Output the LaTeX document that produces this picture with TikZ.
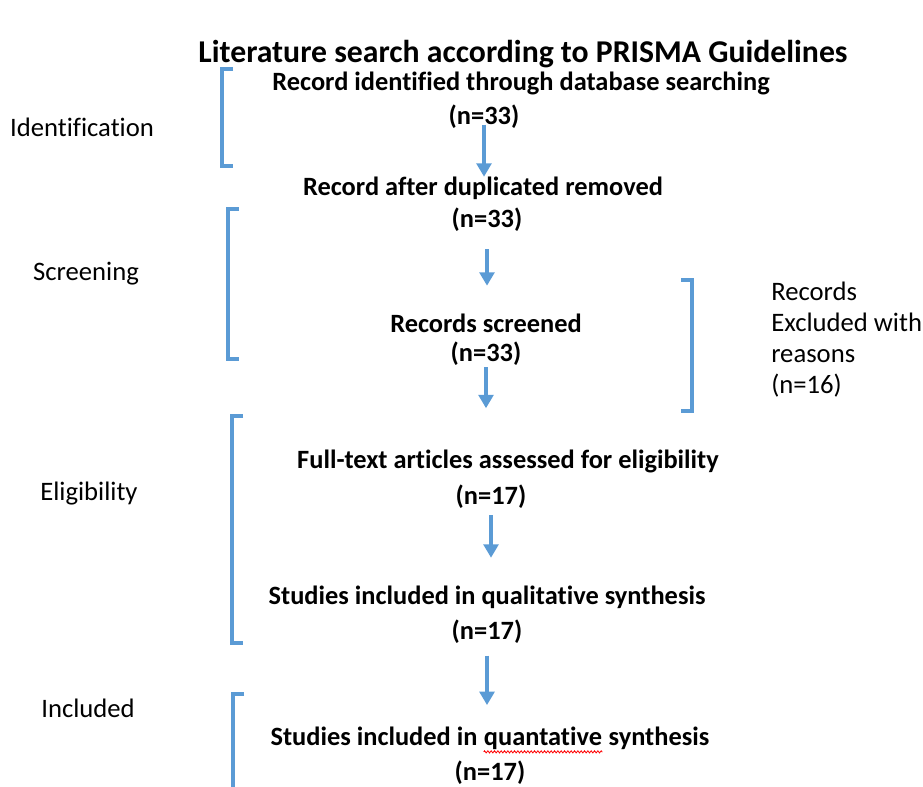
\documentclass[tikz,border=0pt]{standalone}
\usepackage{fontspec}
\setmainfont{Carlito}[Ligatures=CommonOff]
\usetikzlibrary{arrows.meta}
\usetikzlibrary{positioning}
\usetikzlibrary{decorations.pathmorphing}
\definecolor{prismablue}{RGB}{91,155,213}
\tikzset{
  step text/.style={inner sep=0.75pt,font=\fontsize{19.8}{23}\selectfont\bfseries},
  side text/.style={inner sep=0.75pt,font=\fontsize{20}{23.25}\selectfont},
  flow arrow/.style={draw=prismablue,line width=3pt,-{Triangle[width=11pt,length=10pt]}},
  bracket/.style={draw=prismablue,line width=3pt,line cap=butt,line join=miter},
}

\begin{document}
\begin{tikzpicture}[x=0.75pt,y=0.75pt,yscale=-1,xscale=1]
\useasboundingbox (0,0) rectangle (923,787);

% Title
\node (title) at (523,54) [inner sep=0.75pt,font=\fontsize{23.8}{28}\selectfont\bfseries] {Literature search according to PRISMA Guidelines};

% Stage labels
\node (identification) at (82,127) [side text] {Identification};
\node (screening) at (86,274) [side text] {Screening};
\node (eligibility) at (89,494) [side text] {Eligibility};
\node (included) at (88,708) [side text] {Included};

% Flow boxes
\node (found) at (521,83) [step text] {Record identified through database searching};
\node (foundn) at (484,117) [step text] {(n=33)};
\node (dedup) at (483,188) [step text] {Record after duplicated removed};
\node (dedupn) at (487,220) [step text] {(n=33)};
\node (screened) at (486,323) [step text] {Records screened};
\node (screenedn) at (486,354) [step text] {(n=33)};
\node (fulltext) at (508,461) [step text] {Full-text articles assessed for eligibility};
\node (fulltextn) at (491,497) [step text] {(n=17)};
\node (quali) at (487,597) [step text] {Studies included in qualitative synthesis};
\node (qualin) at (487,632) [step text] {(n=17)};
\node (quanti) at (543,738) [step text,inner sep=0pt] {quantative};
\node (quantileft) [step text,inner sep=0pt,base left=4.5pt of quanti] {Studies included in};
\node (quantiright) [step text,inner sep=0pt,base right=4.5pt of quanti] {synthesis};
\node (quantin) at (490,773) [step text] {(n=17)};

% Excluded records
\node (excluded) at (770,340) [side text,anchor=west,align=left] {Records\\Excluded with\\reasons\\(n=16)};

% Arrows
\draw [flow arrow,shorten <=-4pt,shorten >=-1pt] (foundn.south) -- (foundn.south |- dedup.north);
\draw [flow arrow,shorten <=12pt,shorten >=20pt] (dedupn.south) -- (dedupn.south |- screened.north);
\draw [flow arrow,shorten <=0pt,shorten >=30pt] (screenedn.south) -- (screenedn.south |- fulltext.north);
\draw [flow arrow,shorten <=4pt,shorten >=20pt] (fulltextn.south) -- (fulltextn.south |- quali.north);
\draw [flow arrow,shorten <=8pt,shorten >=16pt] (qualin.south) -- (qualin.south |- quantileft.north);

% Brackets
\draw [bracket] (233,69) -- (222,69) -- (222,166) -- (233,166);
\draw [bracket] (239,209) -- (228,209) -- (228,359) -- (239,359);
\draw [bracket] (681,280) -- (692,280) -- (692,411) -- (681,411);
\draw [bracket] (243,416) -- (232,416) -- (232,643) -- (243,643);
\draw [bracket] (244,694) -- (233,694) -- (233,787);

% spelling mark
\draw [red,line width=0.6pt,decorate,decoration={zigzag,amplitude=0.8pt,segment length=2.5pt}] ([yshift=5pt]quanti.base west) -- ([yshift=5pt]quanti.base east);

\end{tikzpicture}
\end{document}
